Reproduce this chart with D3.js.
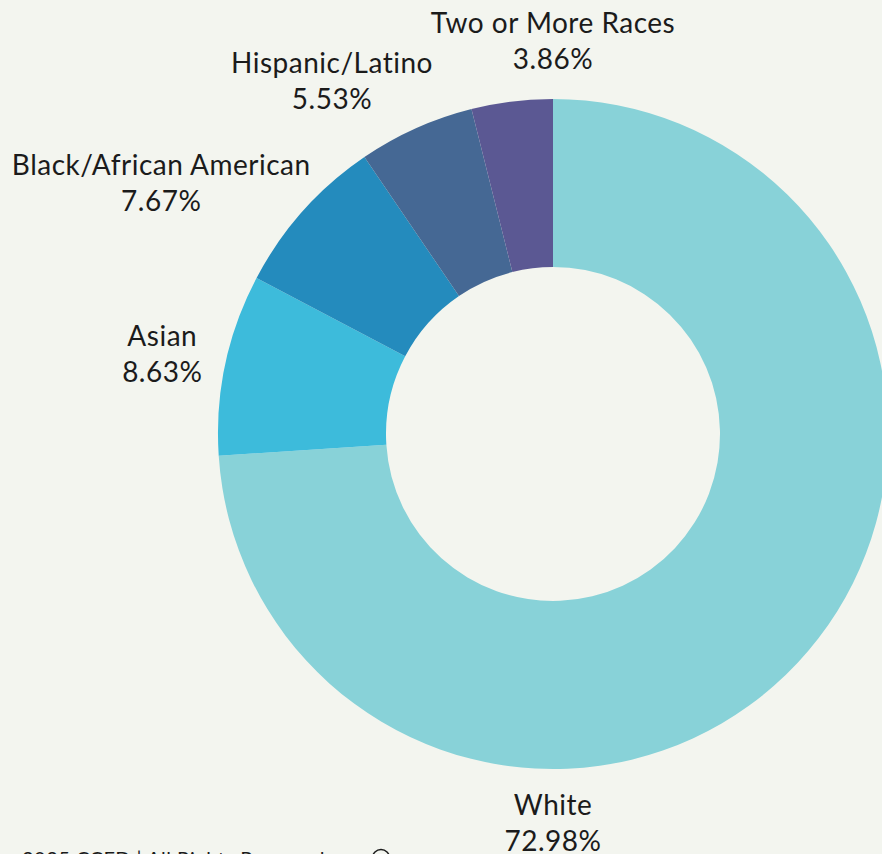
<!DOCTYPE html>
<html>
<head>
<meta charset="utf-8">
<script src="https://cdn.jsdelivr.net/npm/d3@7"></script>
<style>
  html, body { margin: 0; padding: 0; background: #f3f5ef; overflow: hidden; }
  text { font-family: Lato, "Open Sans", sans-serif; fill: #1b1b1b; }
</style>
</head>
<body>
<div id="chart"></div>
<script>
// data
var categories = ["White", "Asian", "Black/African American", "Hispanic/Latino", "Two or More Races"];
var percents = [72.98, 8.63, 7.67, 5.53, 3.86];
var colors = ["#88d2d8", "#3dbbdb", "#248bbd", "#456894", "#5b5893"];

var svgWidth = 882;
var svgHeight = 854;

// donut geometry
var cx = 553;
var cy = 434;
var outerRadius = 335;
var innerRadius = 167;

// where each label sits around the donut (degrees clockwise from top, distance from center)
var labelSpot = {
  "White": [180, 399],
  "Asian": [280.2, 397],
  "Black/African American": [301.6, 460],
  "Hispanic/Latino": [327.2, 408],
  "Two or More Races": [0, 383]
};

var svg = d3.select("#chart")
  .append("svg")
  .attr("width", svgWidth)
  .attr("height", svgHeight);

svg.append("rect")
  .attr("width", svgWidth)
  .attr("height", svgHeight)
  .attr("fill", "#f3f5ef");

var rows = categories.map(function(c, i) {
  return { name: c, value: percents[i], color: colors[i] };
});

var pie = d3.pie()
  .sort(null)
  .value(d => d.value);

var arc = d3.arc()
  .innerRadius(innerRadius)
  .outerRadius(outerRadius);

var chartGroup = svg.append("g")
  .attr("transform", `translate(${cx}, ${cy})`);

chartGroup.selectAll("path")
  .data(pie(rows))
  .enter()
  .append("path")
  .attr("d", arc)
  .attr("fill", d => d.data.color);

// labels: name on top, percent below
var labels = chartGroup.selectAll(".label")
  .data(rows)
  .enter()
  .append("g")
  .attr("class", "label")
  .attr("transform", function(d) {
    var spot = labelSpot[d.name];
    var a = spot[0] * Math.PI / 180;
    var x = spot[1] * Math.sin(a);
    var y = -spot[1] * Math.cos(a);
    return `translate(${x}, ${y})`;
  });

labels.append("text")
  .attr("text-anchor", "middle")
  .attr("y", -18)
  .style("font-size", "28px")
  .style("letter-spacing", "0.5px")
  .text(d => d.name);

labels.append("text")
  .attr("text-anchor", "middle")
  .attr("y", 18)
  .style("font-size", "28px")
  .style("letter-spacing", "0.5px")
  .text(d => d3.format(".2f")(d.value) + "%");

// footer, mostly cut off by the bottom edge
svg.append("text")
  .attr("x", 22)
  .attr("y", 866)
  .style("font-size", "20px")
  .style("letter-spacing", "0.5px")
  .text("2025 CCFD | All Rights Reserved.");

svg.append("circle")
  .attr("cx", 381)
  .attr("cy", 858)
  .attr("r", 8.5)
  .attr("fill", "none")
  .attr("stroke", "#1b1b1b")
  .attr("stroke-width", 1.5);
</script>
</body>
</html>
